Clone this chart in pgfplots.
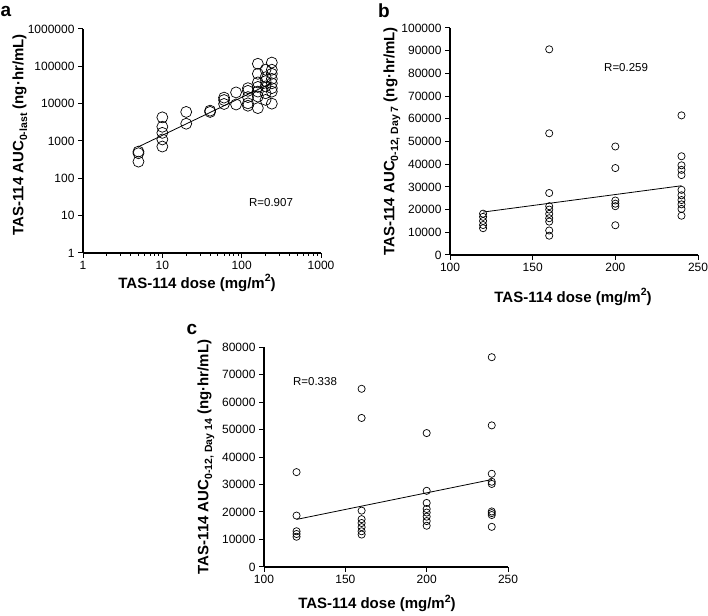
\documentclass[border=0pt]{standalone}
\usepackage{pgfplots}
\pgfplotsset{compat=1.18}
\usepackage{fontspec}
\setmainfont{Liberation Sans}
\newcommand{\sub}[1]{\raisebox{-0.25em}{\fontsize{10.5bp}{12bp}\selectfont #1}}
\newcommand{\sups}[1]{\raisebox{0.42em}{\fontsize{10.5bp}{12bp}\selectfont #1}}

\pgfplotstableread{
x y
5 520
5 470
5 280
10 4300
10 2400
10 1650
10 1100
10 710
20 6000
20 2900
40 6500
40 6000
60 14500
60 12500
60 9800
85 20000
85 9500
120 26000
120 22000
120 15000
120 10200
120 8800
160 117000
160 63000
160 37000
160 28000
160 21000
160 15500
160 7600
200 81000
200 51000
200 40000
200 29000
200 19000
200 12600
240 126000
240 81000
240 63000
240 46000
240 35000
240 26000
240 21000
240 10000
}\dataA

\pgfplotstableread{
x y
120 18200
120 16800
120 15000
120 13200
120 11800
160 90600
160 53600
160 27300
160 21500
160 20000
160 18100
160 16200
160 14700
160 10800
160 8500
200 47800
200 38300
200 24000
200 22600
200 21500
200 13100
240 61500
240 43500
240 39500
240 37500
240 35200
240 28700
240 26300
240 24200
240 22300
240 20300
240 17300
}\dataB

\pgfplotstableread{
x y
120 34500
120 18700
120 13000
120 12000
120 11000
160 64800
160 54200
160 20500
160 17400
160 16000
160 14500
160 13000
160 11800
200 48700
200 27700
200 23300
200 21100
200 19800
200 18300
200 16700
200 15000
240 76300
240 51500
240 33900
240 31000
240 30200
240 20200
240 19600
240 18900
240 14600
}\dataC

\pgfplotsset{
  panel/.style={
    scale only axis,
    axis x line=bottom, axis y line=left,
    axis line style={-, line width=1.4bp, black},
    tick align=outside,
    major tick length=5bp, minor tick length=3bp,
    every tick/.append style={black, line width=1bp},
    tick label style={font=\fontsize{12bp}{14bp}\selectfont},
    label style={font=\bfseries\fontsize{15bp}{18bp}\selectfont},
    clip=false,
  },
  lin/.style={
    /pgf/number format/assume math mode=true,
    /pgf/number format/fixed,
    /pgf/number format/precision=0,
    /pgf/number format/1000 sep={},
    scaled ticks=false,
  },
  circ/.style={only marks, mark=o, mark size=#1, mark options={line width=0.7bp, black}},
  reg/.style={black, line width=0.8bp, no markers},
}

\begin{document}
\begin{tikzpicture}[x=1bp,y=1bp]
\useasboundingbox (0,0) rectangle (708,616);

% Panel a
\begin{axis}[panel,
  at={(83bp,363bp)}, anchor=south west, width=238bp, height=224bp,
  xmode=log, ymode=log,
  xmin=1, xmax=1000, ymin=1, ymax=1000000,
  xtick={1,10,100,1000}, xticklabels={1,10,100,1000},
  ytick={1,10,100,1000,10000,100000,1000000},
  yticklabels={1,10,100,1000,10000,100000,1000000},
  yminorticks=false,
  xlabel={TAS-114 dose (mg/m\sups{2})},
  ylabel={TAS-114 AUC\sub{0-last} (ng·hr/mL)},
  xlabel style={at={(axis description cs:0.479,-0.134)}, anchor=center},
  ylabel style={at={(axis description cs:-0.265,0.527)}, anchor=center},
]
\addplot[circ=5.5bp] table[x=x,y=y] {\dataA};
\addplot[reg] coordinates {(5,700) (240,36000)};
\node[font=\fontsize{11.5bp}{13bp}\selectfont] at (axis description cs:0.79,0.223) {R=0.907};
\end{axis}

% Panel b
\begin{axis}[panel, lin,
  at={(450bp,361bp)}, anchor=south west, width=248bp, height=227bp,
  xmin=100, xmax=250, ymin=0, ymax=100000,
  xtick={100,150,200,250},
  ytick={0,10000,20000,30000,40000,50000,60000,70000,80000,90000,100000},
  xlabel={TAS-114 dose (mg/m\sups{2})},
  ylabel={TAS-114 AUC\sub{0-12, Day 7} (ng·hr/mL)},
  xlabel style={at={(axis description cs:0.496,-0.185)}, anchor=center},
  ylabel style={at={(axis description cs:-0.234,0.5)}, anchor=center},
]
\addplot[circ=3.6bp] table[x=x,y=y] {\dataB};
\addplot[reg] coordinates {(120,18900) (240,30500)};
\node[font=\fontsize{11.5bp}{13bp}\selectfont] at (axis description cs:0.71,0.824) {R=0.259};
\end{axis}

% Panel c
\begin{axis}[panel, lin,
  at={(264bp,49bp)}, anchor=south west, width=244bp, height=220bp,
  xmin=100, xmax=250, ymin=0, ymax=80000,
  xtick={100,150,200,250},
  ytick={0,10000,20000,30000,40000,50000,60000,70000,80000},
  xlabel={TAS-114 dose (mg/m\sups{2})},
  ylabel={TAS-114 AUC\sub{0-12, Day 14} (ng·hr/mL)},
  xlabel style={at={(axis description cs:0.463,-0.164)}, anchor=center},
  ylabel style={at={(axis description cs:-0.238,0.5)}, anchor=center},
]
\addplot[circ=3.6bp] table[x=x,y=y] {\dataC};
\addplot[reg] coordinates {(120,17300) (240,31800)};
\node[font=\fontsize{11.5bp}{13bp}\selectfont] at (axis description cs:0.209,0.841) {R=0.338};
\end{axis}

\node[font=\bfseries\fontsize{19bp}{22bp}\selectfont] at (6,605) {a};
\node[font=\bfseries\fontsize{19bp}{22bp}\selectfont] at (384,605) {b};
\node[font=\bfseries\fontsize{19bp}{22bp}\selectfont] at (192,287) {c};
\end{tikzpicture}
\end{document}
